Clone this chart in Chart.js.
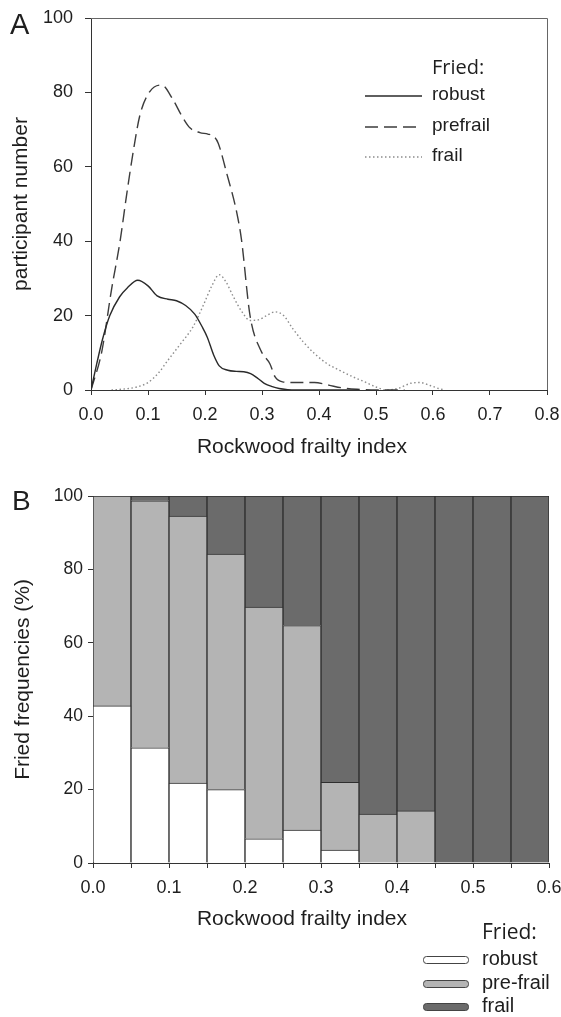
<!DOCTYPE html>
<html>
<head>
<meta charset="utf-8">
<title>Rockwood frailty index x Fried</title>
<script src="https://cdn.jsdelivr.net/npm/chart.js@4.4.1/dist/chart.umd.min.js"></script>
<style>
    body { margin: 0; background: #fff; }
    canvas { display: block; }
</style>
</head>
<body>
<canvas id="graficoA" width="561" height="460"></canvas>
<canvas id="graficoB" width="561" height="557"></canvas>
<script>
// Painel A - curvas (participant number x Rockwood frailty index)
const robustX = [0, 0.01, 0.02, 0.033, 0.05, 0.064, 0.082, 0.1, 0.116, 0.135, 0.15, 0.166, 0.182, 0.195, 0.204, 0.215, 0.225, 0.24, 0.255, 0.268, 0.28, 0.292, 0.304, 0.318, 0.33, 0.345, 0.36, 0.4, 0.47]
const robustY = [0, 7, 13.5, 20, 25, 27.5, 29.5, 28, 25.3, 24.4, 24, 22.7, 20.4, 17, 14.2, 9.5, 6.5, 5.3, 5, 4.9, 4.4, 3.2, 1.8, 0.9, 0.4, 0.1, 0, 0, 0]

const prefrailX = [0, 0.019, 0.036, 0.051, 0.063, 0.074, 0.086, 0.1035, 0.124, 0.144, 0.16, 0.174, 0.191, 0.205, 0.215, 0.223, 0.238, 0.256, 0.264, 0.279, 0.298, 0.314, 0.323, 0.336, 0.36, 0.392, 0.417, 0.44, 0.467, 0.5, 0.55]
const prefrailY = [0, 10.4, 27, 40, 53, 64, 74, 80.3, 82, 78, 73.5, 70.4, 69.2, 68.8, 68.2, 66.4, 58.3, 47.5, 40.4, 20, 10.6, 7, 3.5, 2.2, 2, 2, 1.3, 0.6, 0.2, 0, 0]

const frailX = [0.036, 0.06, 0.08, 0.1, 0.118, 0.135, 0.155, 0.179, 0.198, 0.212, 0.225, 0.237, 0.25, 0.265, 0.279, 0.292, 0.308, 0.323, 0.338, 0.354, 0.372, 0.392, 0.415, 0.436, 0.46, 0.48, 0.5, 0.518, 0.54, 0.561, 0.577, 0.595, 0.61, 0.62]
const frailY = [0, 0.3, 0.8, 2, 4.5, 8, 12, 17, 23.1, 28, 31, 29, 25, 21, 18.7, 18.8, 20, 21, 20, 16.5, 13, 9.8, 7, 5.3, 3.5, 2.2, 0.8, 0, 0.5, 1.8, 2, 1.2, 0.4, 0]

const ticksXA = [0, 0.1, 0.2, 0.3, 0.4, 0.5, 0.6, 0.7, 0.8]
const ticksYA = [0, 20, 40, 60, 80, 100]

// Painel B - frequencias (%) por faixa do indice
const binCenters = [0.025, 0.075, 0.125, 0.175, 0.225, 0.275, 0.325, 0.375, 0.425, 0.475, 0.525, 0.575]
const robustPct = [42.8, 31.4, 21.8, 20.0, 6.6, 9.0, 3.5, 0, 0, 0, 0, 0]
const prefrailPct = [57.2, 67.3, 72.7, 64.2, 63.1, 55.7, 18.5, 13.3, 14.2, 0, 0, 0]
const frailPct = [0, 1.3, 5.5, 15.8, 30.3, 35.3, 78.0, 86.7, 85.8, 100, 100, 100]

const ticksXB = [0, 0.05, 0.1, 0.15, 0.2, 0.25, 0.3, 0.35, 0.4, 0.45, 0.5, 0.55, 0.6]
const labelsXB = ['0.0', '', '0.1', '', '0.2', '', '0.3', '', '0.4', '', '0.5', '', '0.6']
const ticksYB = [0, 20, 40, 60, 80, 100]

const fonte = '"Liberation Sans", Arial, sans-serif'
const fonteFried = '"Open Sans", sans-serif'
const corTexto = '#1e1e1e'

const pts = (xs, ys) => xs.map((x, i) => ({ x: x, y: ys[i] }))

// moldura superior/direita do painel A
const moldura = {
    id: 'moldura',
    afterDatasetsDraw(chart, args, opts) {
        if (!opts.show) return
        const { ctx, chartArea: a } = chart
        ctx.save()
        ctx.strokeStyle = '#666'
        ctx.lineWidth = 1
        ctx.beginPath()
        ctx.moveTo(a.left, Math.round(a.top) + 0.5)
        ctx.lineTo(Math.round(a.right) + 0.5, Math.round(a.top) + 0.5)
        ctx.lineTo(Math.round(a.right) + 0.5, a.bottom)
        ctx.stroke()
        ctx.restore()
    }
}

// letra do painel, titulo do eixo x e legenda
const extras = {
    id: 'extras',
    afterDraw(chart, args, opts) {
        const ctx = chart.ctx
        ctx.save()
        ctx.fillStyle = corTexto
        ctx.textBaseline = 'alphabetic'
        ctx.font = opts.letraTam + 'px ' + fonte
        ctx.fillText(opts.letra, opts.letraPos[0], opts.letraPos[1])

        ctx.font = '21px ' + fonte
        ctx.textAlign = 'center'
        ctx.fillText(opts.tituloX, opts.tituloXPos[0], opts.tituloXPos[1])

        const lg = opts.legenda
        ctx.textAlign = 'left'
        ctx.textBaseline = 'middle'
        ctx.font = lg.tamFried + 'px ' + fonteFried
        ctx.fillText('Fried:', lg.x, lg.yFried)
        ctx.font = lg.tam + 'px ' + fonte
        chart.data.datasets.forEach((ds, i) => {
            const y = lg.ys[i]
            if (lg.tipo === 'linha') {
                ctx.save()
                ctx.strokeStyle = ds.borderColor
                ctx.lineWidth = ds.borderWidth
                ctx.setLineDash(ds.borderDash || [])
                ctx.beginPath()
                ctx.moveTo(lg.amostra[0], y + 1)
                ctx.lineTo(lg.amostra[1], y + 1)
                ctx.stroke()
                ctx.restore()
            } else {
                ctx.save()
                ctx.fillStyle = ds.backgroundColor
                ctx.strokeStyle = '#444'
                ctx.lineWidth = 1
                ctx.beginPath()
                ctx.roundRect(lg.amostra[0] + 0.5, y - 3 + 0.5, lg.amostra[1] - lg.amostra[0], 7, 3)
                ctx.fill()
                ctx.stroke()
                ctx.restore()
            }
            ctx.fillStyle = corTexto
            ctx.fillText(ds.label, lg.x, y)
        })
        ctx.restore()
    }
}

const ctxA = document.getElementById('graficoA')
const ctxB = document.getElementById('graficoB')

let graficoA = new Chart(ctxA, {
    type: 'line',
    data: {
        datasets: [{
            label: 'robust',
            data: pts(robustX, robustY),
            borderColor: '#2a2a2a',
            borderWidth: 1.4,
            borderDash: []
        }, {
            label: 'prefrail',
            data: pts(prefrailX, prefrailY),
            borderColor: '#3c3c3c',
            borderWidth: 1.4,
            borderDash: [13, 6]
        }, {
            label: 'frail',
            data: pts(frailX, frailY),
            borderColor: '#8c8c8c',
            borderWidth: 1.4,
            borderDash: [1.5, 2.5]
        }]
    },
    options: {
        responsive: false,
        animation: false,
        elements: {
            point: { radius: 0 },
            line: { cubicInterpolationMode: 'monotone', fill: false }
        },
        layout: { padding: { left: 0, top: 18, right: 14, bottom: 0 } },
        plugins: {
            legend: { display: false },
            tooltip: { enabled: false },
            moldura: { show: true },
            extras: {
                letra: 'A', letraTam: 29, letraPos: [10, 34],
                tituloX: 'Rockwood frailty index', tituloXPos: [302, 453],
                legenda: {
                    tipo: 'linha', x: 432, yFried: 68, ys: [95, 126, 156],
                    amostra: [365, 422], tam: 19, tamFried: 20
                }
            }
        },
        scales: {
            x: {
                type: 'linear',
                min: 0,
                max: 0.8,
                afterBuildTicks: s => { s.ticks = ticksXA.map(v => ({ value: v })) },
                afterFit: s => { s.height = 70; s.paddingLeft = 0; s.paddingRight = 0 },
                ticks: {
                    callback: v => v.toFixed(1),
                    autoSkip: false, maxRotation: 0, padding: 9,
                    color: corTexto, font: { family: fonte, size: 18 }
                },
                grid: { drawOnChartArea: false, tickLength: 5, color: '#333' },
                border: { color: '#333' }
            },
            y: {
                min: 0,
                max: 100,
                afterBuildTicks: s => { s.ticks = ticksYA.map(v => ({ value: v })) },
                afterFit: s => { s.width = 91; s.paddingTop = 0; s.paddingBottom = 0 },
                ticks: {
                    padding: 12,
                    color: corTexto, font: { family: fonte, size: 18 }
                },
                grid: { drawOnChartArea: false, tickLength: 6, color: '#333' },
                border: { color: '#333' },
                title: {
                    display: true, text: 'participant number',
                    color: corTexto, font: { family: fonte, size: 21 },
                    padding: { top: 9, bottom: 0 }
                }
            }
        }
    },
    plugins: [moldura, extras]
});

let graficoB = new Chart(ctxB, {
    type: 'bar',
    data: {
        datasets: [{
            label: 'robust',
            data: pts(binCenters, robustPct),
            backgroundColor: '#ffffff'
        }, {
            label: 'pre-frail',
            data: pts(binCenters, prefrailPct),
            backgroundColor: '#b4b4b4'
        }, {
            label: 'frail',
            data: pts(binCenters, frailPct),
            backgroundColor: '#6b6b6b'
        }]
    },
    options: {
        responsive: false,
        animation: false,
        datasets: {
            bar: {
                barPercentage: 1, categoryPercentage: 1,
                borderColor: '#2e2e2e', borderWidth: 1
            }
        },
        layout: { padding: { left: 0, top: 36, right: 12, bottom: 0 } },
        plugins: {
            legend: { display: false },
            tooltip: { enabled: false },
            moldura: { show: false },
            extras: {
                letra: 'B', letraTam: 28, letraPos: [12, 50],
                tituloX: 'Rockwood frailty index', tituloXPos: [302, 465],
                legenda: {
                    tipo: 'caixa', x: 482, yFried: 473, ys: [499, 523, 546],
                    amostra: [423, 468], tam: 20, tamFried: 21
                }
            }
        },
        scales: {
            x: {
                type: 'linear',
                stacked: true,
                offset: false,
                min: 0,
                max: 0.6,
                afterBuildTicks: s => { s.ticks = ticksXB.map(v => ({ value: v })) },
                afterFit: s => { s.height = 154; s.paddingLeft = 0; s.paddingRight = 0 },
                ticks: {
                    callback: (v, i) => labelsXB[i],
                    autoSkip: false, maxRotation: 0, padding: 9,
                    color: corTexto, font: { family: fonte, size: 18 }
                },
                grid: { drawOnChartArea: false, offset: false, tickLength: 5, color: '#333' },
                border: { color: '#333' }
            },
            y: {
                stacked: true,
                min: 0,
                max: 100,
                afterBuildTicks: s => { s.ticks = ticksYB.map(v => ({ value: v })) },
                afterFit: s => { s.width = 93; s.paddingTop = 0; s.paddingBottom = 0 },
                ticks: {
                    padding: 5,
                    color: corTexto, font: { family: fonte, size: 17.5 }
                },
                grid: { drawOnChartArea: false, tickLength: 5, color: '#333' },
                border: { color: '#333' },
                title: {
                    display: true, text: 'Fried frequencies (%)',
                    color: corTexto, font: { family: fonte, size: 21 },
                    padding: { top: 11, bottom: 0 }
                }
            }
        }
    },
    plugins: [moldura, extras]
});
</script>
</body>
</html>
